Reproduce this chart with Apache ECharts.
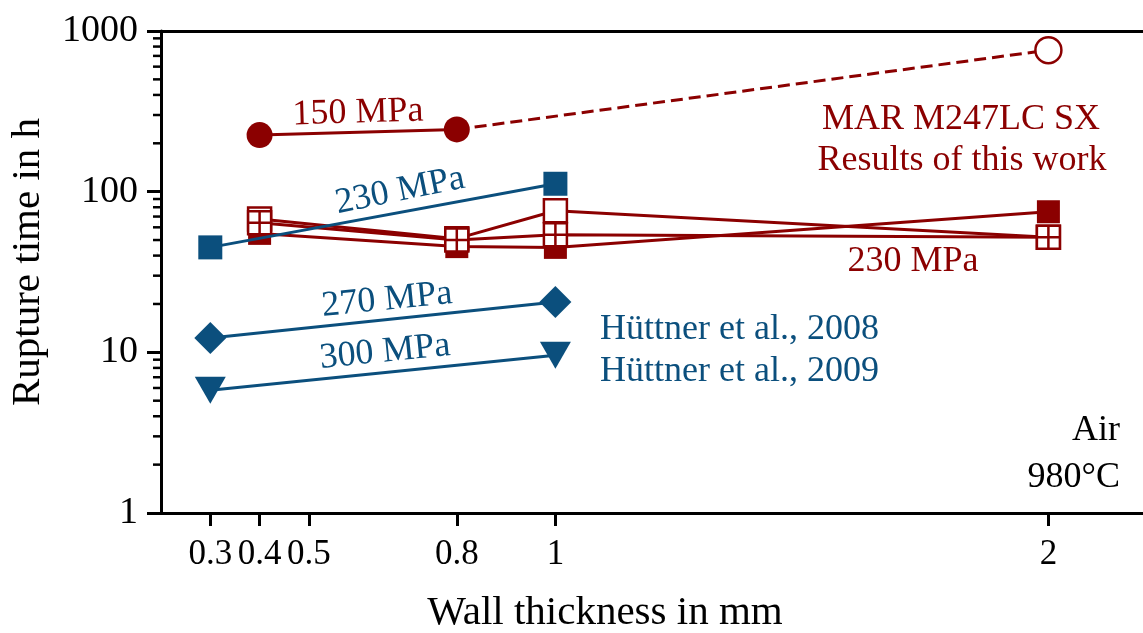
<!DOCTYPE html>
<html>
<head>
<meta charset="utf-8">
<script src="https://cdn.jsdelivr.net/npm/echarts@6/dist/echarts.min.js"></script>
<style>
  html, body { margin: 0; padding: 0; background: #fff; }
  #main { width: 1143px; height: 633px; }
</style>
</head>
<body>
<div id="main"></div>
<script>
var red = '#8b0000'
var blue = '#0b4f7d'
var serif = '"Liberation Serif", "Times New Roman", serif'

// axis ticks
var xMin = 0.2
var xMax = 2.2
var xTicks = [0.3, 0.4, 0.5, 0.8, 1, 2]
var yMinorTicks = [2, 3, 4, 5, 6, 7, 8, 9, 20, 30, 40, 50, 60, 70, 80, 90, 200, 300, 400, 500, 600, 700, 800, 900]

// this work, 150 MPa
var t150X = [0.4, 0.8]
var t150Y = [225, 244]
var t150ExtX = [0.8, 2]
var t150ExtY = [244, 760]

// this work, 230 MPa (three specimen series)
var t230X = [0.4, 0.8, 1, 2]
var t230FilledY = [55, 45.5, 45, 75]
var t230OpenY = [67.5, 51, 76, 52]
var t230GridY = [64, 50, 54, 52]

// Hüttner et al.
var hX = [0.3, 1]
var h230Y = [45, 112]
var h270Y = [12.3, 20.6]
var h300Y = [5.8, 9.6]

function pairs(xs, ys) {
  var out = []
  for (var i = 0; i < xs.length; i++) out.push([xs[i], ys[i]])
  return out
}

function lineSeries(data, color, symbol, size, opts) {
  opts = opts || {}
  return {
    type: 'line',
    data: data,
    symbol: symbol,
    symbolSize: size,
    symbolRotate: opts.rotate || 0,
    lineStyle: { color: color, width: 3, type: opts.dash || 'solid' },
    itemStyle: opts.hollow
      ? { color: '#fff', borderColor: color, borderWidth: 2.5 }
      : { color: color, borderWidth: 0 },
    emphasis: { disabled: true },
    silent: true,
    z: opts.z || 2
  }
}

// hollow square with a cross inside
var gridSym = 'path://M0,0H10V10H0Z M5,0V10 M0,5H10'

var extData = pairs(t150ExtX, t150ExtY)
extData[0] = { value: extData[0], symbol: 'none' }

function note(text, x, y, color, opts) {
  opts = opts || {}
  return {
    type: 'text', x: x, y: y, rotation: opts.rot || 0,
    style: { text: text, fill: color, font: '36px ' + serif, align: opts.align || 'center', verticalAlign: 'middle' }
  }
}

var chart = echarts.init(document.getElementById('main'), null, { renderer: 'canvas' })

var option = {
  animation: false,
  backgroundColor: '#fff',
  grid: { left: 161, top: 31, bottom: 120, right: -4, outerBoundsMode: 'none', containLabel: false },
  xAxis: [{
    type: 'value',
    min: xMin,
    max: xMax,
    name: 'Wall thickness in mm',
    nameLocation: 'middle',
    nameGap: 80,
    nameTextStyle: { fontFamily: serif, fontSize: 41, color: '#000', padding: [0, 98, 0, 0] },
    axisLine: { lineStyle: { color: '#000', width: 3 } },
    axisTick: { show: true, customValues: xTicks, length: 13, lineStyle: { color: '#000', width: 3 } },
    axisLabel: { customValues: xTicks, margin: 24, fontFamily: serif, fontSize: 35, color: '#000' },
    splitLine: { show: false }
  }, {
    type: 'value',
    position: 'top',
    min: xMin,
    max: xMax,
    axisLine: { show: true, lineStyle: { color: '#000', width: 3 } },
    axisTick: { show: false },
    axisLabel: { show: false },
    splitLine: { show: false }
  }],
  yAxis: [{
    type: 'log',
    logBase: 10,
    min: 1,
    max: 1000,
    name: 'Rupture time in h',
    nameLocation: 'middle',
    nameGap: 112,
    nameTextStyle: { fontFamily: serif, fontSize: 41, color: '#000', padding: [0, 0, 0, 20] },
    axisLine: { show: true, lineStyle: { color: '#000', width: 3 } },
    axisTick: { show: true, length: 14, lineStyle: { color: '#000', width: 3 } },
    axisLabel: {
      margin: 23, fontFamily: serif, fontSize: 38, color: '#000',
      formatter: function (v) { return String(Math.round(v)) }
    },
    splitLine: { show: false }
  }],
  series: [
    lineSeries(pairs(t230X, t230OpenY), red, 'rect', 23, { hollow: true, z: 2 }),
    lineSeries(pairs(t230X, t230FilledY), red, 'rect', 23, { z: 3 }),
    lineSeries(pairs(t230X, t230GridY), red, gridSym, 23, { hollow: true, z: 4 }),
    lineSeries(pairs(t150X, t150Y), red, 'circle', 26, { z: 4 }),
    lineSeries(extData, red, 'circle', 26, { hollow: true, dash: [12, 6], z: 4 }),
    lineSeries(pairs(hX, h230Y), blue, 'rect', 24, { z: 5 }),
    lineSeries(pairs(hX, h270Y), blue, 'diamond', 32, { z: 5 }),
    lineSeries(pairs(hX, h300Y), blue, 'triangle', [31, 27], { rotate: 180, z: 5 })
  ],
  graphic: [
    note('150 MPa', 358, 113, red, { rot: 0.03 }),
    note('230 MPa', 400, 191, blue, { rot: 0.2 }),
    note('270 MPa', 387, 300, blue, { rot: 0.1 }),
    note('300 MPa', 385, 352, blue, { rot: 0.1 }),
    note('230 MPa', 913, 262, red),
    note('MAR M247LC SX', 961, 120, red),
    note('Results of this work', 962, 161, red),
    note('Hüttner et al., 2008', 600, 330, blue, { align: 'left' }),
    note('Hüttner et al., 2009', 600, 372, blue, { align: 'left' }),
    note('Air', 1120, 431, '#000', { align: 'right' }),
    note('980°C', 1120, 478, '#000', { align: 'right' })
  ]
}

chart.setOption(option)

// minor log ticks, positioned through the axis scale once the chart is laid out
var axisX = chart.convertToPixel({ xAxisIndex: 0 }, xMin)
var minorLines = yMinorTicks.map(function (v) {
  var y = chart.convertToPixel({ yAxisIndex: 0 }, v)
  return {
    type: 'line',
    z: 10,
    silent: true,
    shape: { x1: axisX - 8, y1: y, x2: axisX, y2: y },
    style: { stroke: '#000', lineWidth: 2.5 }
  }
})
chart.setOption({ graphic: option.graphic.concat(minorLines) })
</script>
</body>
</html>
